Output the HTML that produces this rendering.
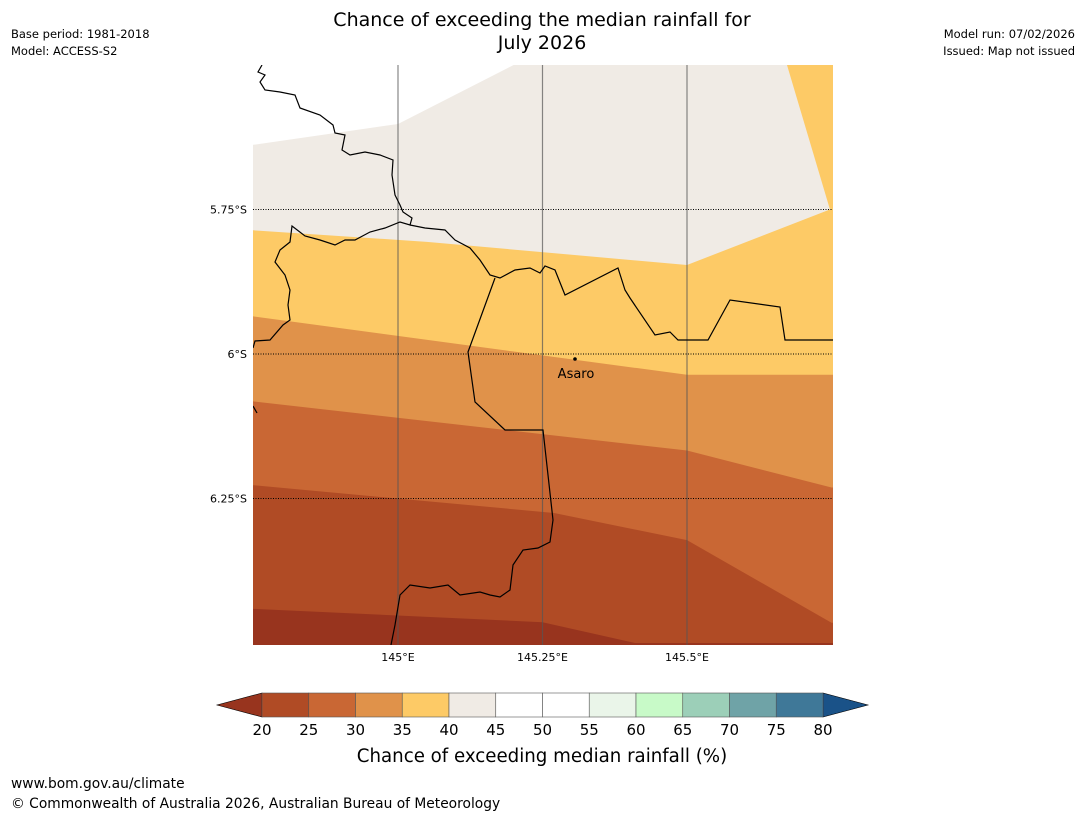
<!DOCTYPE html>
<html><head><meta charset="utf-8"><style>
body{margin:0;background:#fff;width:1085px;height:816px;overflow:hidden;font-family:"Liberation Sans","DejaVu Sans",sans-serif;}
svg{position:absolute;left:0;top:0}
</style></head><body>
<svg width="1085" height="816" font-family="DejaVu Sans, Liberation Sans, sans-serif">
<text x="542" y="26" font-size="19" text-anchor="middle">Chance of exceeding the median rainfall for</text>
<text x="542" y="49" font-size="19" text-anchor="middle">July 2026</text>
<text x="11" y="38" font-size="11.5">Base period: 1981-2018</text>
<text x="11" y="55" font-size="11.5">Model: ACCESS-S2</text>
<text x="1075" y="38" font-size="11.5" text-anchor="end">Model run: 07/02/2026</text>
<text x="1075" y="55" font-size="11.5" text-anchor="end">Issued: Map not issued</text>
<defs><clipPath id="mc"><rect x="253" y="65" width="580" height="580"/></clipPath></defs>
<g id="map" clip-path="url(#mc)"></g>
<g id="grid"></g>
<g id="borders" fill="none" stroke="#000" stroke-width="1.2" clip-path="url(#mc)">
<path d="M262,65 L258,72 L265,75 L260,82 L265,90 L280,92 L295,95 L300,108 L320,115 L333,125 L335,133 L345,135 L342,150 L350,155 L365,152 L380,155 L393,160 L392,175 L395,195 L400,205 L403,212 L412,218 L410,225 L400,222 L385,228 L370,232 L355,240 L345,240 L335,245 L320,240 L305,236 L292,226 L290,242 L280,250 L275,262 L285,275 L290,290 L288,305 L290,320 L283,325 L270,340 L255,341 L253,348"/>
<path d="M410,225 L425,228 L445,230 L455,240 L470,248 L480,260 L490,275 L500,278 L515,270 L530,268 L540,273 L545,266 L555,270 L565,295 L618,268 L625,290 L630,298 L655,335 L670,332 L678,340 L708,340 L730,300 L780,307 L785,340 L833,340"/>
<path d="M495,278 L468,352 L475,402 L505,430 L543,430 L553,520 L550,542 L538,548 L523,550 L513,565 L510,590 L500,597 L490,595 L480,592 L460,595 L448,585 L430,588 L410,585 L400,595 L395,625 L391,645"/>
<path d="M253,406 L257,413"/>
</g>
<circle cx="575" cy="359" r="1.8" fill="#000"/>
<text x="576" y="378" font-size="13" text-anchor="middle">Asaro</text>
<g id="axes" font-size="11"></g>
<g id="cbar"></g>
<text x="542" y="762" font-size="18.2" text-anchor="middle">Chance of exceeding median rainfall (%)</text>
<text x="11" y="788" font-size="13.8">www.bom.gov.au/climate</text>
<text x="11" y="808" font-size="13.8">© Commonwealth of Australia 2026, Australian Bureau of Meteorology</text>
</svg>
<script>
const lonTicks=[145,145.25,145.5];
const lonLabels=["145°E","145.25°E","145.5°E"];
const latTicks=[-5.75,-6,-6.25];
const latLabels=["5.75°S","6°S","6.25°S"];
// contour boundary lines (lon, lat), upper edge of each band
const bandColors=["#f0ebe5","#fdca66","#e0924a","#c96734","#b04b25","#98341e"];
const bandNames=["band-40-45","band-35-40","band-30-35","band-25-30","band-20-25","band-below-20"];
const topLons=[144.75,145,145.2,145.8];
const topLats=[-5.638,-5.602,-5.5,-5.5];
const b1Lons=[144.75,145.05,145.5,145.75];
const b1Lats=[-5.786,-5.806,-5.846,-5.749];
const b2Lons=[144.75,145.5,145.75];
const b2Lats=[-5.935,-6.036,-6.036];
const b3Lons=[144.75,145.5,145.75];
const b3Lats=[-6.082,-6.167,-6.231];
const b4Lons=[144.75,145.27,145.5,145.75];
const b4Lats=[-6.227,-6.275,-6.322,-6.465];
const b5Lons=[144.75,145.25,145.41,145.75];
const b5Lats=[-6.441,-6.464,-6.5,-6.5];
const cornerLons=[145.673,145.747,145.76,145.76];
const cornerLats=[-5.5,-5.749,-5.749,-5.5];
const cbarBounds=[20,25,30,35,40,45,50,55,60,65,70,75,80];
const cbarColors=["#b04b25","#c96734","#e0924a","#fdca66","#f0ebe5","#ffffff","#ffffff","#eaf5e9","#c8fac8","#9ccfb8","#6fa3a7","#3f7898"];
const extLow="#98341e", extHigh="#1a5288";
const NS="http://www.w3.org/2000/svg";
const X=lon=>398+(lon-145)*578;
const Y=lat=>354+(-6-lat)*578;
function mk(tag,attrs,parent){const e=document.createElementNS(NS,tag);for(const k in attrs)e.setAttribute(k,attrs[k]);parent.appendChild(e);return e;}
const map=document.getElementById('map');
const lines=[[topLons,topLats],[b1Lons,b1Lats],[b2Lons,b2Lats],[b3Lons,b3Lats],[b4Lons,b4Lats],[b5Lons,b5Lats]];
for(let i=0;i<6;i++){
  const [lo,la]=lines[i];
  let pts=lo.map((v,j)=>X(v)+','+Y(la[j]));
  pts.push('900,'+Y(la[la.length-1]),'900,700','200,700','200,'+Y(la[0]));
  const p=mk('polygon',{points:pts.join(' '),fill:bandColors[i]},map);
  
  
}
const c=mk('polygon',{points:cornerLons.map((v,j)=>X(v)+','+Y(cornerLats[j])).join(' '),fill:"#fdca66"},map);


const grid=document.getElementById('grid');
const axes=document.getElementById('axes');
lonTicks.forEach((t,i)=>{
  const l=mk('line',{x1:X(t),x2:X(t),y1:65,y2:645,stroke:'#555',"stroke-opacity":0.7,"stroke-width":1.2},grid);
  
  
  const tx=mk('text',{x:X(t),y:661,"text-anchor":"middle"},axes);tx.textContent=lonLabels[i];
  
  
});
latTicks.forEach((t,i)=>{
  const l=mk('line',{x1:253,x2:833,y1:Y(t),y2:Y(t),stroke:'#000',"stroke-width":1,"stroke-dasharray":"1,1.5"},grid);
  
  
  const tx=mk('text',{x:247,y:Y(t)+4,"text-anchor":"end"},axes);tx.textContent=latLabels[i];
  
  
});
const cb=document.getElementById('cbar');
const cx0=262,cx1=823,cy=693,ch=24;
const CX=v=>cx0+(v-20)/60*(cx1-cx0);
let e=mk('polygon',{points:`${cx0},${cy} ${cx0},${cy+ch} 217,${cy+ch/2}`,fill:extLow,stroke:'#000',"stroke-width":0.6},cb);


e=mk('polygon',{points:`${cx1},${cy} ${cx1},${cy+ch} 868,${cy+ch/2}`,fill:extHigh,stroke:'#000',"stroke-width":0.6},cb);


cbarColors.forEach((col,i)=>{
  const r=mk('rect',{x:CX(cbarBounds[i]),y:cy,width:CX(cbarBounds[i+1])-CX(cbarBounds[i]),height:ch,fill:col,stroke:'#555',"stroke-width":0.6},cb);
  
  
});
cbarBounds.forEach(v=>{
  const t=mk('text',{x:CX(v),y:735,"font-size":15,"text-anchor":"middle"},cb);t.textContent=v;
  
  
});
</script>
</body></html>
